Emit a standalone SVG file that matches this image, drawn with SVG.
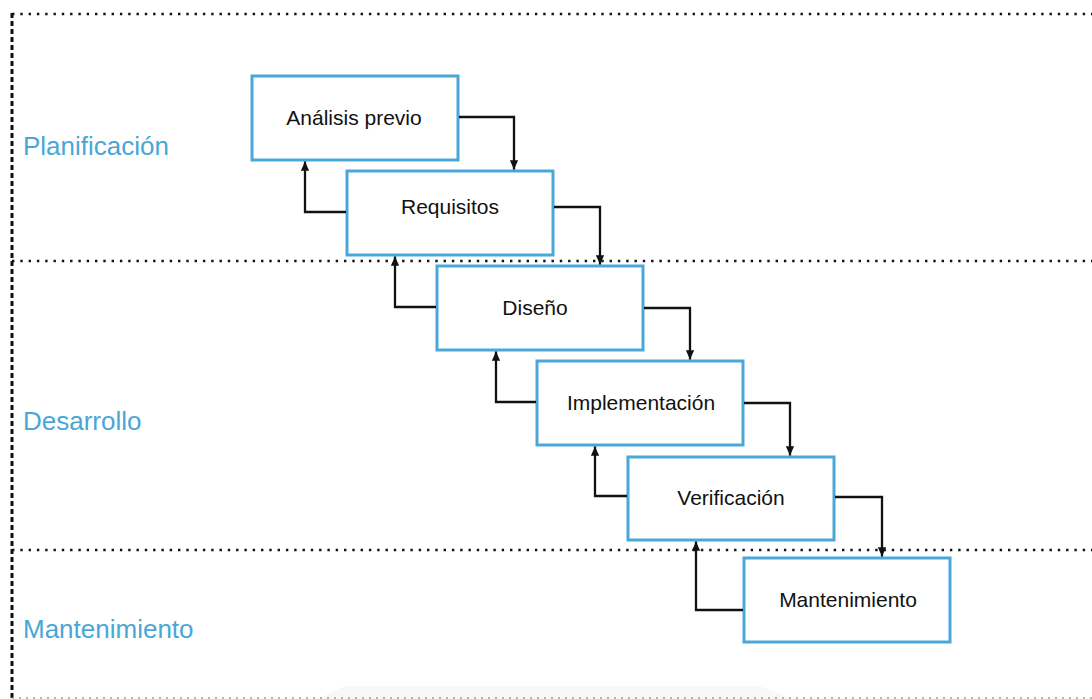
<svg xmlns="http://www.w3.org/2000/svg" width="1092" height="699" viewBox="0 0 1092 699">
  <style>
    .box { fill: #ffffff; stroke: #4aa8d8; stroke-width: 3; }
    .label { font-family: "Liberation Sans", Arial, sans-serif; font-size: 21px; fill: #111111; text-anchor: middle; }
    .phase { font-family: "Liberation Sans", Arial, sans-serif; font-size: 26px; fill: #48a7d7; }
    .dots { stroke: #111111; stroke-width: 2.4; stroke-dasharray: 2.4 5.9; fill: none; }
    .link { fill: none; stroke: #111111; stroke-width: 2.3; }
  </style>
  <defs>
    <marker id="arrow" viewBox="0 0 10 10" refX="10" refY="5" markerWidth="4" markerHeight="4" orient="auto" markerUnits="strokeWidth">
      <path d="M0,0.5 L10,5 L0,9.5 z" fill="#111111"/>
    </marker>
  </defs>

  <rect width="1092" height="699" fill="#ffffff"/>
  <!-- faint shading along the lower edge -->
  <path d="M318,699 L345,686 L760,686 L792,699 Z" fill="#f8f8f8"/>

  <!-- phase frame -->
  <g id="frame">
    <line x1="12" y1="13" x2="12" y2="699" stroke="#111111" stroke-width="3" stroke-dasharray="5 3"/>
    <line class="dots" x1="12" y1="14" x2="1092" y2="14"/>
    <line class="dots" x1="12" y1="261" x2="1092" y2="261"/>
    <line class="dots" x1="12" y1="550" x2="1092" y2="550"/>
    <line x1="12" y1="698" x2="1092" y2="698" stroke="#9a9a9a" stroke-width="1.5" stroke-dasharray="2 5"/>
  </g>

  <!-- phase names -->
  <g id="phases">
    <text class="phase" x="23" y="155">Planificación</text>
    <text class="phase" x="23" y="430">Desarrollo</text>
    <text class="phase" x="23" y="638">Mantenimiento</text>
  </g>

  <!-- stage nodes -->
  <g id="analisis">
    <rect class="box" x="252" y="76" width="206" height="84"/>
    <text class="label" x="354" y="124.5">Análisis previo</text>
  </g>
  <g id="requisitos">
    <rect class="box" x="347" y="171" width="206" height="84"/>
    <text class="label" x="450" y="213.5">Requisitos</text>
  </g>
  <g id="diseno">
    <rect class="box" x="437" y="266" width="206" height="84"/>
    <text class="label" x="535" y="315">Diseño</text>
  </g>
  <g id="implementacion">
    <rect class="box" x="537" y="361" width="206" height="84"/>
    <text class="label" x="641" y="410">Implementación</text>
  </g>
  <g id="verificacion">
    <rect class="box" x="628" y="457" width="206" height="83"/>
    <text class="label" x="731" y="505">Verificación</text>
  </g>
  <g id="mantenimiento">
    <rect class="box" x="744" y="558" width="206" height="84"/>
    <text class="label" x="848" y="607">Mantenimiento</text>
  </g>

  <!-- forward and feedback connectors -->
  <g id="connectors">
    <path class="link" d="M459,117 H514 V169.5" marker-end="url(#arrow)"/>
    <path class="link" d="M554,207 H600 V264.5" marker-end="url(#arrow)"/>
    <path class="link" d="M644,308 H690 V359.5" marker-end="url(#arrow)"/>
    <path class="link" d="M744,403 H790 V455.5" marker-end="url(#arrow)"/>
    <path class="link" d="M835,497 H882 V556.5" marker-end="url(#arrow)"/>

    <path class="link" d="M346,212 H305 V161.5" marker-end="url(#arrow)"/>
    <path class="link" d="M436,307 H395 V256.5" marker-end="url(#arrow)"/>
    <path class="link" d="M536,402 H496 V351.5" marker-end="url(#arrow)"/>
    <path class="link" d="M627,496 H595 V446.5" marker-end="url(#arrow)"/>
    <path class="link" d="M743,610 H696 V541.5" marker-end="url(#arrow)"/>
  </g>
</svg>
